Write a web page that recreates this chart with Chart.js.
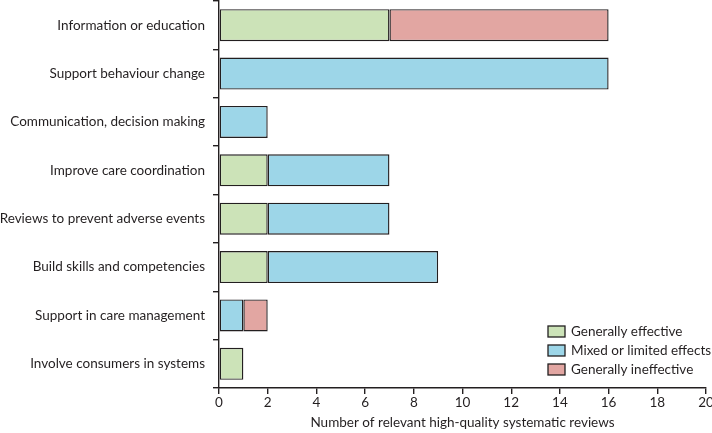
<!DOCTYPE html>
<html>
<head>
<meta charset="utf-8">
<script src="https://cdn.jsdelivr.net/npm/chart.js@4"></script>
<style>
  html, body { margin: 0; padding: 0; background: #fff; }
  #wrap { width: 712px; height: 433px; position: relative; }
</style>
</head>
<body>
<div id="wrap"><canvas id="chart"></canvas></div>
<script>
const categories = [
  'Information or education',
  'Support behaviour change',
  'Communication, decision making',
  'Improve care coordination',
  'Reviews to prevent adverse events',
  'Build skills and competencies',
  'Support in care management',
  'Involve consumers in systems'
];
const effective   = [7, 0, 0, 2, 2, 2, 0, 1];
const mixed       = [0, 16, 2, 5, 5, 7, 1, 0];
const ineffective = [9, 0, 0, 0, 0, 0, 1, 0];
const seriesNames = ['Generally effective', 'Mixed or limited effects', 'Generally ineffective'];
const xTicks = [0, 2, 4, 6, 8, 10, 12, 14, 16, 18, 20];

const colors = ['#cce3b8', '#9dd6e8', '#e2a6a2'];
const font = "Lato, sans-serif";
const fsize = 13.5;
const ink = '#231f20';

// legend drawn inside the plot, bottom right
const boxLegend = {
  id: 'boxLegend',
  afterDraw(chart) {
    const ctx = chart.ctx;
    const x0 = 548, y0 = 326;
    ctx.save();
    ctx.font = fsize + 'px ' + font;
    ctx.textBaseline = 'middle';
    chart.data.datasets.forEach((ds, i) => {
      const y = y0 + i * 19;
      ctx.fillStyle = ds.backgroundColor;
      ctx.fillRect(x0, y, 17, 11);
      ctx.lineWidth = 1.3;
      ctx.strokeStyle = ink;
      ctx.strokeRect(x0, y, 17, 11);
      ctx.fillStyle = ink;
      ctx.fillText(ds.label, x0 + 23, y + 5.5);
    });
    ctx.restore();
  }
};

new Chart(document.getElementById('chart'), {
  type: 'bar',
  data: {
    labels: categories,
    datasets: [effective, mixed, ineffective].map((d, i) => ({
      label: seriesNames[i],
      data: d,
      backgroundColor: colors[i],
      borderColor: ink,
      borderWidth: 1.4,
      borderSkipped: false,
      barPercentage: 0.66,
      categoryPercentage: 1
    }))
  },
  options: {
    indexAxis: 'y',
    responsive: true,
    maintainAspectRatio: false,
    animation: false,
    layout: { padding: { top: 1, right: 6 } },
    plugins: { legend: { display: false }, tooltip: { enabled: false } },
    scales: {
      x: {
        stacked: true,
        min: 0, max: 20,
        afterBuildTicks: s => { s.ticks = xTicks.map(v => ({ value: v })); },
        afterFit: s => { s.height = 45; s.paddingLeft = 0; s.paddingRight = 0; },
        border: { color: ink, width: 1.4 },
        grid: { drawOnChartArea: false, drawTicks: true, tickLength: 6, color: ink, lineWidth: 1.4 },
        ticks: { color: ink, font: { family: font, size: fsize }, padding: 1 },
        title: { display: true, text: 'Number of relevant high-quality systematic reviews',
                 color: ink, font: { family: font, size: fsize }, padding: { top: 0, bottom: 2 } }
      },
      y: {
        stacked: true,
        afterFit: s => { s.width = 219; s.paddingTop = 0; s.paddingBottom = 0; },
        border: { color: ink, width: 1.4 },
        grid: { drawOnChartArea: false, drawTicks: true, tickLength: 6, color: ink, lineWidth: 1.4, offset: true },
        ticks: { color: ink, font: { family: font, size: fsize }, padding: 8 }
      }
    }
  },
  plugins: [boxLegend]
});
</script>
</body>
</html>
